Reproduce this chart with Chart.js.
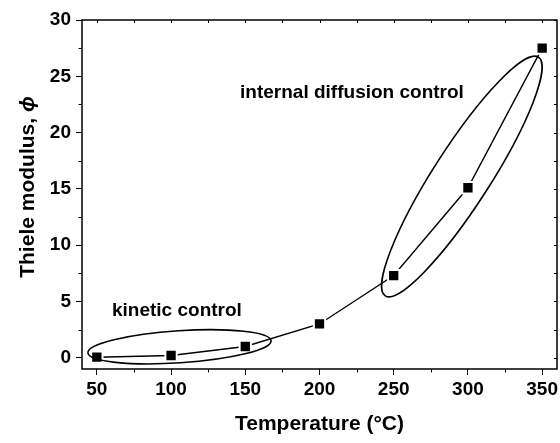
<!DOCTYPE html>
<html>
<head>
<meta charset="utf-8">
<script src="https://cdn.jsdelivr.net/npm/chart.js@4/dist/chart.umd.min.js"></script>
<style>
html,body{margin:0;padding:0;background:#fff;}
#wrap{width:560px;height:443px;}
</style>
</head>
<body>
<div id="wrap"><canvas id="c" width="560" height="443"></canvas></div>
<script>
// ---- data ----
const temperatures = [50, 100, 150, 200, 250, 300, 350];
const thieleModulus = [0.05, 0.2, 1.0, 3.0, 7.3, 15.1, 27.5];
const xTickValues = [50, 100, 150, 200, 250, 300, 350];
const xMinorTicks = [75, 125, 175, 225, 275, 325];
const yTickValues = [0, 5, 10, 15, 20, 25, 30];
const yMinorTicks = [2.5, 7.5, 12.5, 17.5, 22.5, 27.5];
// region annotations: major-axis end points (data units)
const kineticEllipse = [[44, 0.44], [167.4, 1.51]];
const diffusionEllipse = [[244.3, 5.5], [347.5, 26.7]];
const kineticLabel = {text: 'kinetic control', at: [60.2, 4.2]};
const diffusionLabel = {text: 'internal diffusion control', at: [146.5, 23.5]};

const FONT = "'Liberation Sans', Arial, sans-serif";

const deco = {
  id: 'deco',
  afterDatasetsDraw(chart) {
    const {ctx, chartArea: a, scales: {x, y}} = chart;
    ctx.save();
    ctx.strokeStyle = '#000';
    ctx.lineWidth = 1.5;
    ctx.strokeRect(a.left, a.top, a.right - a.left, a.bottom - a.top);
    ctx.lineWidth = 1;
    ctx.beginPath();
    xMinorTicks.forEach(v => { const px = Math.round(x.getPixelForValue(v)) + 0.5; ctx.moveTo(px, a.bottom); ctx.lineTo(px, a.bottom + 3.5); });
    yMinorTicks.forEach(v => { const py = Math.round(y.getPixelForValue(v)) + 0.5; ctx.moveTo(a.left, py); ctx.lineTo(a.left - 3.5, py); });
    xTickValues.concat(xMinorTicks).forEach(v => { const px = Math.round(x.getPixelForValue(v)) + 0.5; ctx.moveTo(px, a.top); ctx.lineTo(px, a.top + 3); });
    yTickValues.concat(yMinorTicks).forEach(v => { const py = Math.round(y.getPixelForValue(v)) + 0.5; ctx.moveTo(a.right, py); ctx.lineTo(a.right - 3, py); });
    ctx.stroke();

    const drawEllipse = (ends, ratio) => {
      const x1 = x.getPixelForValue(ends[0][0]), y1 = y.getPixelForValue(ends[0][1]);
      const x2 = x.getPixelForValue(ends[1][0]), y2 = y.getPixelForValue(ends[1][1]);
      const cx = (x1 + x2) / 2, cy = (y1 + y2) / 2;
      const rx = Math.hypot(x2 - x1, y2 - y1) / 2;
      const rot = Math.atan2(y2 - y1, x2 - x1);
      ctx.beginPath();
      ctx.ellipse(cx, cy, rx, rx * ratio, rot, 0, Math.PI * 2);
      ctx.lineWidth = 1.6;
      ctx.stroke();
    };
    drawEllipse(kineticEllipse, 0.175);
    drawEllipse(diffusionEllipse, 0.2);

    ctx.fillStyle = '#000';
    ctx.font = 'bold 19px ' + FONT;
    ctx.textAlign = 'left';
    ctx.textBaseline = 'middle';
    [kineticLabel, diffusionLabel].forEach(l => {
      ctx.fillText(l.text, x.getPixelForValue(l.at[0]), y.getPixelForValue(l.at[1]));
    });

    ctx.translate(28, 187);
    ctx.rotate(-Math.PI / 2);
    const part1 = 'Thiele modulus, ';
    const part2 = '\u03D5';
    ctx.font = 'bold 21px ' + FONT;
    const w1 = ctx.measureText(part1).width;
    ctx.font = 'italic bold 21px ' + FONT;
    const w2 = ctx.measureText(part2).width;
    const start = -(w1 + w2) / 2;
    ctx.font = 'bold 21px ' + FONT;
    ctx.fillText(part1, start, 0);
    ctx.font = 'italic bold 21px ' + FONT;
    ctx.fillText(part2, start + w1, 0);
    ctx.restore();
  }
};

new Chart(document.getElementById('c'), {
  type: 'line',
  data: {
    datasets: [{
      data: temperatures.map((t, i) => ({x: t, y: thieleModulus[i]})),
      borderColor: '#000',
      borderWidth: 1.4,
      pointStyle: 'rect',
      pointRadius: 8,
      pointBackgroundColor: '#000',
      pointBorderColor: '#fff',
      pointBorderWidth: 2,
      tension: 0,
      fill: false,
      clip: false
    }]
  },
  options: {
    responsive: false,
    animation: false,
    devicePixelRatio: 1,
    layout: {autoPadding: false, padding: {top: 20, right: 3, left: 0, bottom: 0}},
    plugins: {legend: {display: false}, tooltip: {enabled: false}},
    scales: {
      x: {
        type: 'linear',
        min: 40, max: 360,
        afterBuildTicks: s => { s.ticks = xTickValues.map(v => ({value: v})); },
        afterFit: s => { s.height = 74; s.paddingRight = 0; s.paddingLeft = 0; },
        border: {display: false},
        grid: {drawOnChartArea: false, tickLength: 6, tickColor: '#000', tickWidth: 1},
        ticks: {color: '#000', font: {family: FONT, size: 19, weight: 'bold'}, padding: 3, maxRotation: 0},
        title: {display: true, text: 'Temperature (\u00B0C)', color: '#000',
                font: {family: FONT, size: 21, weight: 'bold'}, padding: {top: 4, bottom: 6}}
      },
      y: {
        type: 'linear',
        min: -1, max: 30,
        afterBuildTicks: s => { s.ticks = yTickValues.map(v => ({value: v})); },
        afterFit: s => { s.width = 82; s.paddingTop = 0; s.paddingBottom = 0; },
        border: {display: false},
        grid: {drawOnChartArea: false, tickLength: 6, tickColor: '#000', tickWidth: 1},
        ticks: {color: '#000', font: {family: FONT, size: 19, weight: 'bold'}, padding: 5}
      }
    }
  },
  plugins: [deco]
});
</script>
</body>
</html>
